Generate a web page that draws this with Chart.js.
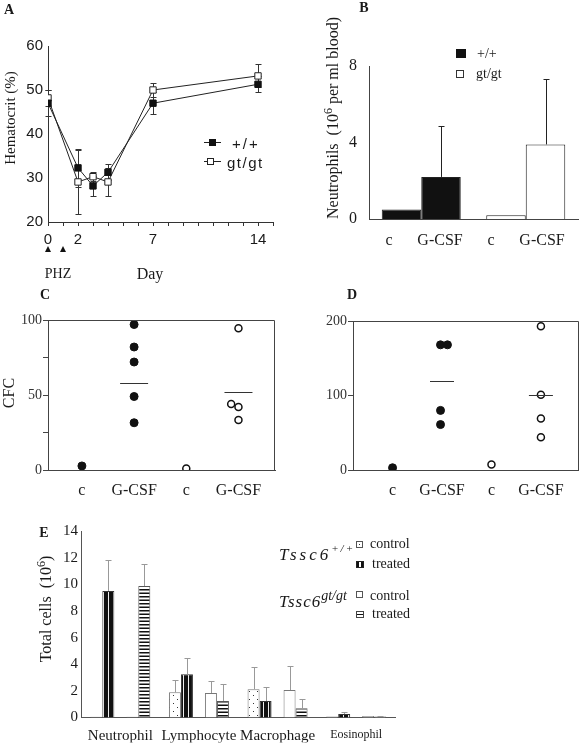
<!DOCTYPE html>
<html><head><meta charset="utf-8">
<script src="https://cdn.jsdelivr.net/npm/chart.js@4.4.0/dist/chart.umd.min.js"></script>
<style>
html,body{margin:0;padding:0;background:#fff;}
#page{position:relative;width:584px;height:747px;overflow:hidden;background:#fff;font-family:'Liberation Serif','Times New Roman',serif;color:#1a1a1a;}
canvas{position:absolute;}
.t{position:absolute;white-space:nowrap;transform:translate(-50%,-50%);line-height:1;}
.tl{position:absolute;white-space:nowrap;transform:translate(0,-50%);line-height:1;}
.rot{position:absolute;white-space:nowrap;transform:translate(-50%,-50%) rotate(-90deg);line-height:1;}
.pl{font-weight:bold;font-size:14px;}
.sans{font-family:'Liberation Sans',Arial,sans-serif;}
.box{position:absolute;box-sizing:border-box;}
.sup{position:relative;top:-0.5em;font-size:0.75em;}
</style></head>
<body><div id="page">
<canvas id="cA" width="290" height="290" style="left:0;top:0"></canvas>
<canvas id="cB" width="294" height="290" style="left:290px;top:0"></canvas>
<canvas id="cC" width="290" height="210" style="left:0;top:300px"></canvas>
<canvas id="cD" width="294" height="210" style="left:290px;top:300px"></canvas>
<canvas id="cE" width="584" height="242" style="left:0;top:505px"></canvas>

<!-- Panel A texts -->
<div class="t pl" style="left:9px;top:10px">A</div>
<div class="rot" style="left:10px;top:118px;font-size:15px">Hematocrit (%)</div>
<div class="t" style="left:58px;top:274px;font-size:14px">PHZ</div>
<div class="t" style="left:150px;top:274px;font-size:16px">Day</div>
<div class="box" style="left:204px;top:142px;width:17px;height:1px;background:#222"></div>
<div class="box" style="left:209px;top:139px;width:7px;height:7px;background:#111"></div>
<div class="tl sans" style="left:232px;top:143px;font-size:15px;letter-spacing:2px">+/+</div>
<div class="box" style="left:204px;top:161px;width:17px;height:1px;background:#222"></div>
<div class="box" style="left:207px;top:158px;width:7px;height:7px;background:#fff;border:1px solid #222"></div>
<div class="tl sans" style="left:227px;top:162px;font-size:15px;letter-spacing:1.5px">gt/gt</div>

<!-- Panel B texts -->
<div class="t pl" style="left:364px;top:8px">B</div>
<div class="rot" style="left:333px;top:118px;font-size:16px">Neutrophils&nbsp;&nbsp;(10<span class="sup">6</span> per ml blood)</div>
<div class="box" style="left:456px;top:49px;width:10px;height:9px;background:#111"></div>
<div class="tl" style="left:477px;top:54px;font-size:14px">+/+</div>
<div class="box" style="left:456px;top:70px;width:8px;height:8px;background:#fff;border:1px solid #333"></div>
<div class="tl" style="left:476px;top:74px;font-size:14px">gt/gt</div>
<div class="t" style="left:389px;top:240px;font-size:16px">c</div>
<div class="t" style="left:440px;top:240px;font-size:16px">G-CSF</div>
<div class="t" style="left:491px;top:240px;font-size:16px">c</div>
<div class="t" style="left:542px;top:240px;font-size:16px">G-CSF</div>

<!-- Panel C / D texts -->
<div class="t pl" style="left:45px;top:295px">C</div>
<div class="rot" style="left:9px;top:393px;font-size:16px">CFC</div>
<div class="t pl" style="left:352px;top:295px">D</div>

<!-- Panel E texts -->
<div class="t pl" style="left:44px;top:533px">E</div>
<div class="rot" style="left:46px;top:609px;font-size:16px">Total cells&nbsp;&nbsp;(10<span class="sup">6</span>)</div>
<div class="tl" style="left:279px;top:554px;font-size:17px;font-style:italic;letter-spacing:3px">Tssc6<span style="position:relative;top:-8px;font-size:11px;letter-spacing:2px">+/+</span></div>
<div class="tl" style="left:279px;top:601px;font-size:17px;font-style:italic;letter-spacing:1px">Tssc6<span style="position:relative;top:-7px;font-size:14px;letter-spacing:0">gt/gt</span></div>
<div class="box" style="left:356px;top:541px;width:7px;height:7px;border:1px solid #555;background:radial-gradient(circle at 50% 50%, #333 0 0.8px, #fff 1px)"></div>
<div class="tl" style="left:370px;top:544px;font-size:14px">control</div>
<div class="box" style="left:356px;top:561px;width:8px;height:7px;border:1px solid #222;background:linear-gradient(90deg,#111 0 40%,#fff 40% 60%,#111 60% 100%)"></div>
<div class="tl" style="left:372px;top:564px;font-size:14px">treated</div>
<div class="box" style="left:356px;top:591px;width:7px;height:7px;border:1px solid #555;background:#fff"></div>
<div class="tl" style="left:370px;top:596px;font-size:14px">control</div>
<div class="box" style="left:356px;top:611px;width:8px;height:7px;border:1px solid #444;background:linear-gradient(180deg,#fff 0 38%,#111 38% 62%,#fff 62% 100%)"></div>
<div class="tl" style="left:372px;top:614px;font-size:14px">treated</div>
</div>

<script>
// ---------- Panel A : hematocrit ----------
const aDays = [0, 2, 3, 4, 7, 14];
const aWT = [47, 32.3, 28.2, 31.3, 47, 51.3];
const aWTerr = [3, 4.3, 2.2, 1.8, 2.5, 1.8];
const aGT = [48.2, 29.1, 30.3, 29.1, 50, 53.2];
const aGTerr = [1.8, 7.3, 1, 3.2, 1.5, 2.6];
const aTickDays = [0, 2, 7, 14];
const phzDays = [0, 1];

// ---------- Panel B : blood neutrophils ----------
const bGroups = ['+/+', 'gt/gt'];
const bControl = [0.5, 0.2];
const bGCSF = [2.2, 3.9];
const bGCSFerr = [2.65, 3.4];

// ---------- Panels C, D : CFC ----------
const cdCats = ['c', 'G-CSF', 'c', 'G-CSF'];
const cTicks = [0, 25, 50, 75, 100];
const cLabelled = [0, 50, 100];
const cWT_c = [2.7];
const cWT_g = [97, 82, 72, 49, 31.5];
const cGT_c = [1];
const cGT_g = [94.5, 44, 42, 33.4];
const cGT_gJit = [0, -0.14, 0, 0];
const cMedians = [null, 58, null, 52];

const dWT_c = [3];
const dWT_g = [168, 168, 80, 61];
const dWT_gJit = [-0.03, 0.11, -0.03, -0.03];
const dGT_c = [7.5];
const dGT_g = [193, 101, 69, 44];
const dMedians = [null, 119, null, 101];

// ---------- Panel E : total cells ----------
const eCats = ['Neutrophil', 'Lymphocyte', 'Macrophage', 'Eosinophil'];
const eWTctrl = [0.05, 1.89, 2.13, 0.08];
const eWTctrlErr = [0, 0.9, 1.65, 0];
const eWTtrt = [9.5, 3.24, 1.24, 0.26];
const eWTtrtErr = [2.35, 1.19, 1.02, 0.17];
const eGTctrl = [0.05, 1.84, 2.06, 0.12];
const eGTctrlErr = [0, 0.89, 1.8, 0];
const eGTtrt = [9.87, 1.24, 0.69, 0.08];
const eGTtrtErr = [1.68, 1.27, 0.7, 0.04];

Chart.defaults.animation = false;
Chart.defaults.responsive = false;
Chart.defaults.maintainAspectRatio = false;
Chart.defaults.devicePixelRatio = 1;
Chart.defaults.font.family = "'Liberation Serif', 'Times New Roman', serif";
Chart.defaults.font.size = 15;
Chart.defaults.color = '#1a1a1a';
Chart.defaults.plugins.legend.display = false;
Chart.defaults.plugins.tooltip.enabled = false;

const fixW = (w) => (s) => { s.width = w; };
const fixH = (h) => (s) => { s.height = h; };

function drawErr(chart) {
  const ctx = chart.ctx, ys = chart.scales.y;
  chart.data.datasets.forEach((ds, i) => {
    const errs = ds.errs; if (!errs) return;
    const meta = chart.getDatasetMeta(i);
    meta.data.forEach((el, j) => {
      const e = errs[j]; if (!e) return;
      const raw = ds.data[j]; const v = (raw && typeof raw === 'object') ? raw.y : raw;
      if (v == null) return;
      const x = Math.round(el.x) + 0.5;
      const yT = Math.round(ys.getPixelForValue(v + e)) + 0.5;
      const yB = ds.errUpOnly ? ys.getPixelForValue(v) : Math.round(ys.getPixelForValue(v - e)) + 0.5;
      const cw = ds.errCap || 3;
      ctx.save(); ctx.strokeStyle = ds.errColor || '#222'; ctx.lineWidth = 1;
      ctx.beginPath();
      ctx.moveTo(x, yT); ctx.lineTo(x, yB);
      ctx.moveTo(x - cw, yT); ctx.lineTo(x + cw, yT);
      if (!ds.errUpOnly) { ctx.moveTo(x - cw, yB); ctx.lineTo(x + cw, yB); }
      ctx.stroke(); ctx.restore();
    });
  });
}
const errPlugin = {
  id: 'errbars',
  beforeDatasetsDraw(chart, args, opts) { if (opts.behind) drawErr(chart); },
  afterDatasetsDraw(chart, args, opts) { if (!opts.behind) drawErr(chart); }
};
const framePlugin = {
  id: 'frame',
  afterDraw(chart) {
    const {ctx, chartArea: a} = chart;
    ctx.save(); ctx.strokeStyle = '#444'; ctx.lineWidth = 1;
    ctx.beginPath();
    ctx.moveTo(a.left, Math.round(a.top) + 0.5);
    ctx.lineTo(Math.round(a.right) - 0.5, Math.round(a.top) + 0.5);
    ctx.lineTo(Math.round(a.right) - 0.5, a.bottom);
    ctx.stroke(); ctx.restore();
  }
};
function medianPlugin(medians, half) {
  return {
    id: 'medians',
    afterDatasetsDraw(chart) {
      const {ctx, scales: {x, y}} = chart;
      ctx.save(); ctx.strokeStyle = '#333'; ctx.lineWidth = 1;
      medians.forEach((m, i) => {
        if (m == null) return;
        const px = x.getPixelForValue(i + 1);
        const py = Math.round(y.getPixelForValue(m)) + 0.5;
        ctx.beginPath(); ctx.moveTo(px - half, py); ctx.lineTo(px + half, py); ctx.stroke();
      });
      ctx.restore();
    }
  };
}
const phzPlugin = {
  id: 'phz',
  afterDraw(chart) {
    const {ctx, scales: {x}} = chart;
    ctx.save(); ctx.fillStyle = '#111';
    phzDays.forEach(d => {
      const px = x.getPixelForValue(d);
      ctx.beginPath(); ctx.moveTo(px, 246); ctx.lineTo(px - 3, 252); ctx.lineTo(px + 3, 252); ctx.closePath(); ctx.fill();
    });
    ctx.restore();
  }
};

// ---------- Chart A ----------
new Chart(document.getElementById('cA'), {
  type: 'line',
  data: { datasets: [
    { label: '+/+', data: aDays.map((d, i) => ({x: d, y: aWT[i]})), errs: aWTerr, errColor: '#333',
      borderColor: '#222', borderWidth: 1, pointStyle: 'rect', pointRadius: 4.5,
      pointBackgroundColor: '#111', pointBorderColor: '#111', pointBorderWidth: 1, tension: 0 },
    { label: 'gt/gt', data: aDays.map((d, i) => ({x: d, y: aGT[i]})), errs: aGTerr, errColor: '#333',
      borderColor: '#222', borderWidth: 1, pointStyle: 'rect', pointRadius: 4.5,
      pointBackgroundColor: '#fff', pointBorderColor: '#222', pointBorderWidth: 1, tension: 0 }
  ]},
  options: {
    layout: { padding: { left: 0, top: 46, right: 17, bottom: 38 } },
    scales: {
      x: { type: 'linear', min: 0, max: 15, afterFit: fixH(30),
        ticks: { stepSize: 1, autoSkip: false, maxRotation: 0, padding: 5,
          font: { family: "'Liberation Sans', Arial, sans-serif", size: 15 },
          callback: (v) => aTickDays.includes(v) ? String(v) : '' },
        grid: { drawOnChartArea: false, drawTicks: true, tickLength: 4, color: '#333' },
        border: { color: '#333' } },
      y: { min: 20, max: 60, afterFit: fixW(48),
        ticks: { stepSize: 10, padding: 5, font: { family: "'Liberation Sans', Arial, sans-serif", size: 15 } },
        grid: { drawOnChartArea: false, drawTicks: false },
        border: { color: '#333' } }
    },
    plugins: { errbars: { behind: true } }
  },
  plugins: [errPlugin, phzPlugin]
});

// ---------- Chart B ----------
new Chart(document.getElementById('cB'), {
  type: 'bar',
  data: { labels: bGroups, datasets: [
    { label: 'c', data: bControl, backgroundColor: ['#111', '#fff'], borderColor: '#222', borderWidth: 1 },
    { label: 'G-CSF', data: bGCSF, errs: bGCSFerr, errUpOnly: true, errCap: 3, errColor: '#222',
      backgroundColor: ['#111', '#fff'], borderColor: '#222', borderWidth: 1 }
  ]},
  options: {
    layout: { padding: { left: 39, top: 66, right: 6, bottom: 61 } },
    datasets: { bar: { categoryPercentage: 0.756, barPercentage: 1 } },
    scales: {
      x: { afterFit: fixH(10), ticks: { display: false }, grid: { display: false, drawTicks: false }, border: { color: '#444' } },
      y: { min: 0, max: 8, afterFit: fixW(40),
        ticks: { stepSize: 4, padding: 12, font: { size: 16 } },
        grid: { display: false, drawTicks: false }, border: { color: '#444' } }
    },
    plugins: { errbars: { behind: false } }
  },
  plugins: [errPlugin]
});

// ---------- Chart C ----------
function cdChart(id, pad, yW, xMin, xMax, yMax, yTicks, yLabelled, dsets, medians, half) {
  return new Chart(document.getElementById(id), {
    type: 'scatter',
    data: { datasets: dsets },
    options: {
      layout: { padding: pad },
      scales: {
        x: { type: 'linear', min: xMin, max: xMax, afterFit: fixH(30),
          afterBuildTicks: (s) => { s.ticks = cdCats.map((c, i) => ({ value: i + 1 })); },
          ticks: { padding: 11, font: { size: 16 }, callback: (v) => cdCats[v - 1] || '' },
          grid: { display: false, drawTicks: false }, border: { color: '#444' } },
        y: { min: 0, max: yMax, afterFit: fixW(yW),
          afterBuildTicks: (s) => { s.ticks = yTicks.map(v => ({ value: v })); },
          ticks: { padding: 1, font: { size: 14 }, color: '#333', callback: (v) => yLabelled.includes(v) ? String(v) : '' },
          grid: { drawOnChartArea: false, drawTicks: true, tickLength: 5, color: '#444' },
          border: { color: '#444' } }
      }
    },
    plugins: [framePlugin, medianPlugin(medians, half)]
  });
}
const filled = { pointRadius: 4, pointBackgroundColor: '#111', pointBorderColor: '#111', pointBorderWidth: 1 };
const open = { pointRadius: 3.5, pointBackgroundColor: '#fff', pointBorderColor: '#111', pointBorderWidth: 1.5 };

cdChart('cC', { left: 0, top: 20, right: 15, bottom: 10 }, 48, 0.35, 4.7, 100, cTicks, cLabelled, [
  Object.assign({ data: cWT_c.map(v => ({x: 1, y: v})).concat(cWT_g.map(v => ({x: 2, y: v}))) }, filled),
  Object.assign({ data: cGT_c.map(v => ({x: 3, y: v})).concat(cGT_g.map((v, i) => ({x: 4 + cGT_gJit[i], y: v}))) }, open)
], cMedians, 14);

cdChart('cD', { left: 23, top: 21, right: 2, bottom: 10 }, 40, 0.2, 4.76, 200, [0, 100, 200], [0, 100, 200], [
  Object.assign({ data: dWT_c.map(v => ({x: 1, y: v})).concat(dWT_g.map((v, i) => ({x: 2 + dWT_gJit[i], y: v}))) }, filled),
  Object.assign({ data: dGT_c.map(v => ({x: 3, y: v})).concat(dGT_g.map(v => ({x: 4, y: v}))) }, open)
], dMedians, 12);

// ---------- Chart E ----------
function makePattern(w, h, draw) {
  const c = document.createElement('canvas'); c.width = w; c.height = h;
  const g = c.getContext('2d'); draw(g, w, h);
  return g.createPattern(c, 'repeat');
}
const patDots = makePattern(8, 8, (g) => { g.fillStyle = '#fff'; g.fillRect(0, 0, 8, 8); g.fillStyle = '#333'; g.fillRect(1, 2, 1, 1); g.fillRect(5, 6, 1, 1); });
const patVert = makePattern(5, 4, (g) => { g.fillStyle = '#111'; g.fillRect(0, 0, 5, 4); g.fillStyle = '#eee'; g.fillRect(3, 0, 1, 4); });
const patHoriz = makePattern(4, 7, (g) => { g.fillStyle = '#fff'; g.fillRect(0, 0, 4, 7); g.fillStyle = '#111'; g.fillRect(0, 0, 4, 1.5); g.fillRect(0, 3.5, 4, 1.5); });

const eErrStyle = { errUpOnly: true, errCap: 3, errColor: '#999' };
new Chart(document.getElementById('cE'), {
  type: 'bar',
  data: { labels: eCats, datasets: [
    Object.assign({ label: 'Tssc6+/+ control', data: eWTctrl, errs: eWTctrlErr, backgroundColor: patDots, borderColor: '#777', borderWidth: 1 }, eErrStyle),
    Object.assign({ label: 'Tssc6+/+ treated', data: eWTtrt, errs: eWTtrtErr, backgroundColor: patVert, borderColor: '#333', borderWidth: 1 }, eErrStyle),
    { label: '', data: eCats.map(() => null), backgroundColor: 'rgba(0,0,0,0)', borderWidth: 0 },
    Object.assign({ label: 'Tssc6gt/gt control', data: eGTctrl, errs: eGTctrlErr, backgroundColor: '#fff', borderColor: '#777', borderWidth: 1 }, eErrStyle),
    Object.assign({ label: 'Tssc6gt/gt treated', data: eGTtrt, errs: eGTtrtErr, backgroundColor: patHoriz, borderColor: '#555', borderWidth: 1 }, eErrStyle)
  ]},
  options: {
    layout: { padding: { left: 0, top: 26, right: 188.5, bottom: 4.5 } },
    datasets: { bar: { categoryPercentage: 0.763, barPercentage: 1 } },
    scales: {
      x: { afterFit: fixH(25),
        ticks: { padding: 10, autoSkip: false, maxRotation: 0,
          font: (ctx) => ({ family: "'Liberation Serif', 'Times New Roman', serif", size: ctx.index === 3 ? 12 : 15 }) },
        grid: { display: false, drawTicks: false }, border: { color: '#555' } },
      y: { min: 0, max: 14, afterFit: fixW(81),
        ticks: { stepSize: 2, padding: 3, font: { size: 15 } },
        grid: { display: false, drawTicks: false }, border: { color: '#555' } }
    },
    plugins: { errbars: { behind: false } }
  },
  plugins: [errPlugin]
});
</script>
</body></html>
